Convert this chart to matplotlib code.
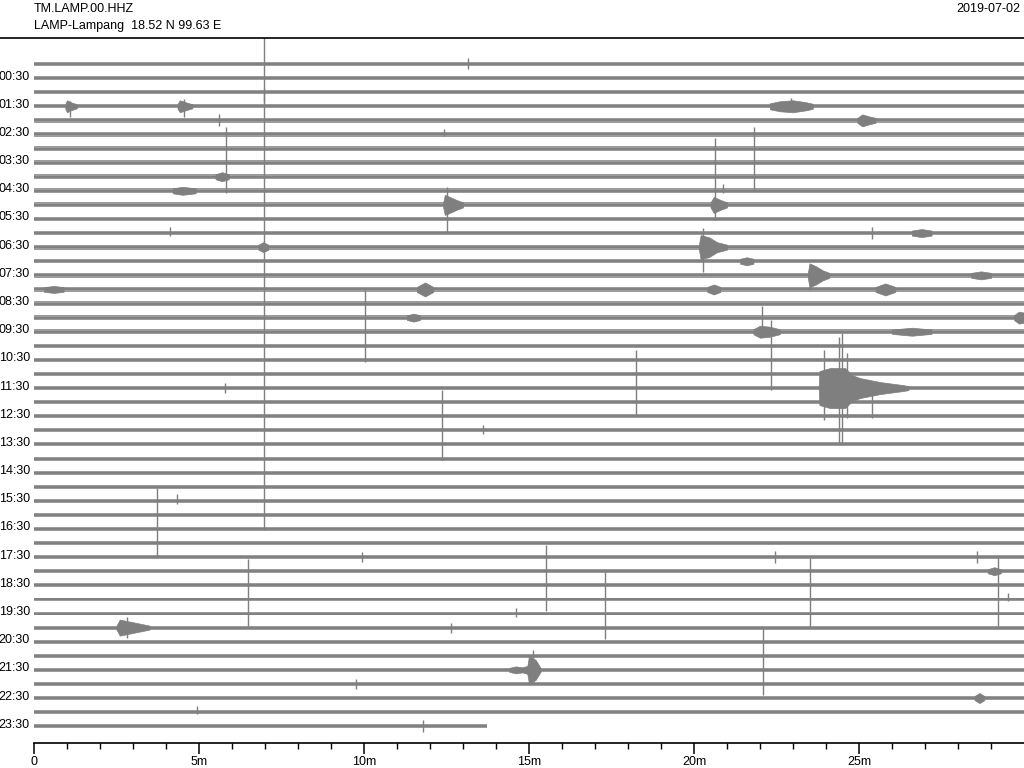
import matplotlib
matplotlib.use("Agg")
import matplotlib.pyplot as plt
from matplotlib.lines import Line2D

plt.rcParams['font.family'] = ['Liberation Sans', 'DejaVu Sans']

station = "TM.LAMP.00.HHZ"
site = "LAMP-Lampang  18.52 N 99.63 E"
day = "2019-07-02"

# 48 half-hour rows, amplitudes in trace units (one row = 14.09 units)
row_gap = 14.09
n_rows = 48
last_row_end = 13.74  # minutes of data in the final row

# background noise half-width for every row
noise = [1.8, 1.8, 1.9, 1.9,
         2.4, 2.4, 2.5, 2.5, 2.5, 2.5, 2.5, 2.4, 2.4, 2.4,
         2.2, 2.2, 2.3, 2.2, 2.3, 2.3, 2.2, 2.2,
         2.0, 2.0, 2.0, 2.0, 2.0, 2.0, 2.0,
         1.9, 1.9, 1.9, 1.9, 1.9, 1.9, 1.9, 1.9, 1.9, 1.9, 1.9,
         1.9, 1.9, 1.9, 1.9, 1.9, 1.9, 1.9, 1.8]

# events: row, times (minutes), envelope half-amplitudes
burst_row = [3, 3, 3, 4, 8, 9, 10, 10, 12, 13, 13, 14, 15, 15, 16, 16, 16, 16,
             18, 18, 19, 19, 23, 40, 43, 45, 36]
burst_t = [
    [0.95, 1.0, 1.12, 1.3],
    [4.35, 4.42, 4.6, 4.8],
    [22.3, 22.6, 23.0, 23.4, 23.6],
    [24.95, 25.1, 25.3, 25.5],
    [5.5, 5.7, 5.9],
    [4.2, 4.5, 4.9],
    [12.4, 12.45, 12.6, 12.8, 13.0],
    [20.5, 20.6, 20.8, 21.0],
    [26.6, 26.9, 27.2],
    [6.8, 6.95, 7.1],
    [20.15, 20.2, 20.45, 20.7, 21.0],
    [21.4, 21.6, 21.8],
    [23.45, 23.5, 23.7, 23.9, 24.1],
    [28.4, 28.7, 29.0],
    [0.3, 0.6, 0.9],
    [11.6, 11.85, 12.1],
    [20.4, 20.6, 20.8],
    [25.5, 25.8, 26.1],
    [11.3, 11.5, 11.7],
    [29.7, 29.85, 30.0],
    [21.8, 22.0, 22.3, 22.6],
    [26.0, 26.6, 27.2],
    [23.78, 23.8, 24.12, 24.58, 24.79, 25.03, 25.64, 26.33, 26.5],
    [2.5, 2.6, 2.9, 3.2, 3.5],
    [14.4, 14.6, 14.8, 14.95, 15.0, 15.2, 15.35],
    [28.5, 28.65, 28.8],
    [28.9, 29.1, 29.3],
]
burst_amp = [
    [2.5, 6, 4, 2],
    [2.5, 6, 4, 2],
    [3, 5, 6, 4, 2.5],
    [2.5, 6, 4, 2.5],
    [2.5, 4.5, 2.5],
    [2.5, 4, 2.5],
    [2.5, 10, 8, 5, 2.5],
    [2.5, 8, 5, 2.5],
    [2.5, 4, 2.5],
    [2.5, 5, 2.5],
    [2.5, 12, 10, 5, 2.5],
    [2.5, 4, 2.5],
    [2.5, 12, 9, 5, 2.5],
    [2.5, 4, 2.5],
    [2.3, 3.5, 2.3],
    [2.5, 7, 2.5],
    [2.5, 5, 2.5],
    [2.5, 6, 2.5],
    [2.3, 4, 2.3],
    [2.5, 6, 5],
    [2.5, 6, 5, 2.5],
    [2.2, 4, 2.2],
    [2, 17, 20, 20, 13, 10, 6, 3, 2],
    [2, 8, 6, 4, 2],
    [2, 3.5, 2.5, 4, 14, 10, 2],
    [2, 5, 2],
    [2, 4, 2],
]

# single spikes / glitches: row, minute, reach above, reach below
spike_row = [0, 17, 2, 3, 3, 4, 7, 5, 7, 10, 10, 12, 12, 13, 15, 18, 21, 22, 18,
             23, 23, 23, 23, 24, 26, 25, 32, 31, 37, 35, 36, 39, 40, 44, 38, 35,
             35, 37, 37, 38, 42, 46, 47, 40, 43, 3, 9, 23]
spike_min = [13.16, 6.97, 6.97, 4.55, 1.08, 5.6, 5.81, 12.42, 21.83, 20.65, 12.53,
             4.12, 25.38, 20.28, 23.5, 22.05, 22.33, 18.24, 10.03,
             23.94, 24.39, 24.48, 24.64, 25.4, 13.6, 12.37, 3.72, 4.34, 6.47,
             9.93, 15.5, 14.6, 12.63, 9.76, 17.31, 22.46, 28.57, 23.5, 29.22,
             29.5, 22.1, 4.95, 11.8, 2.82, 15.12, 22.94, 20.88, 5.8]
spike_up = [6, 270, 3, 7, 5, 6, 36, 5, 36, 67, 18, 6, 6, 19, 10, 12, 40, 24, 28,
            38, 51, 55, 35, 8, 5, 26, 27, 7, 26, 5, 26, 6, 5, 5, 27, 6, 6, 27, 27,
            6, 28, 6, 6, 11, 20, 8, 7, 5]
spike_down = [5, 226, 10, 11, 11, 6, 30, 2, 27, 15, 28, 3, 6, 25, 15, 9, 30, 41, 44,
              32, 55, 57, 30, 16, 4, 44, 42, 3, 41, 5, 40, 3, 5, 5, 40, 6, 6, 42,
              41, 2, 39, 2, 6, 10, 14, 5, 2, 5]

row_labels = [f"{h:02d}:30" for h in range(24)]
tick_major = [0, 5, 10, 15, 20, 25]
tick_major_labels = ["0", "5m", "10m", "15m", "20m", "25m"]

trace_color = '#7f7f7f'

fig = plt.figure(figsize=(10.24, 7.68), dpi=100)
ax = fig.add_axes([34 / 1024, 1 - 743 / 768, 990 / 1024, 705 / 768])

for k in range(n_rows):
    y = k * row_gap
    end = last_row_end if k == n_rows - 1 else 30
    h = noise[k]
    ax.fill_between([0, end], [y - h, y - h], [y + h, y + h],
                    color='#9c9c9c', lw=0)
    ax.plot([0, end], [y, y], color=trace_color, lw=1.3, solid_capstyle='butt')

for r, t, a in zip(burst_row, burst_t, burst_amp):
    y = r * row_gap
    ax.fill_between(t, [y - v for v in a], [y + v for v in a],
                    color=trace_color, lw=0.5)

for r, t, u, d in zip(spike_row, spike_min, spike_up, spike_down):
    y = r * row_gap
    ax.vlines(t, y - u, y + d, color=trace_color, lw=1.0)

ax.set_xlim(0, 30)
ax.set_ylim(679, -26)

ax.set_xticks(tick_major)
ax.set_xticklabels(tick_major_labels, fontsize=9)
ax.set_xticks(range(1, 30), minor=True)
ax.tick_params(axis='x', which='major', length=8, width=1.1, pad=1.5)
ax.tick_params(axis='x', which='minor', length=4.5, width=1.0)

ax.set_yticks([(2 * h + 1) * row_gap - 3 for h in range(24)])
ax.set_yticklabels(row_labels, fontsize=9)
ax.tick_params(axis='y', length=0, pad=3)

for side in ['left', 'right', 'top']:
    ax.spines[side].set_visible(False)
ax.spines['bottom'].set_linewidth(1.2)

fig.add_artist(Line2D([0, 1], [1 - 38 / 768, 1 - 38 / 768], color='black', lw=1.2))
fig.text(34 / 1024, 1 - 9 / 768, station, fontsize=9, va='center', ha='left')
fig.text(34 / 1024, 1 - 26 / 768, site, fontsize=9, va='center', ha='left')
fig.text(1020 / 1024, 1 - 8.5 / 768, day, fontsize=9, va='center', ha='right')

fig.savefig("out.png", dpi=100)
